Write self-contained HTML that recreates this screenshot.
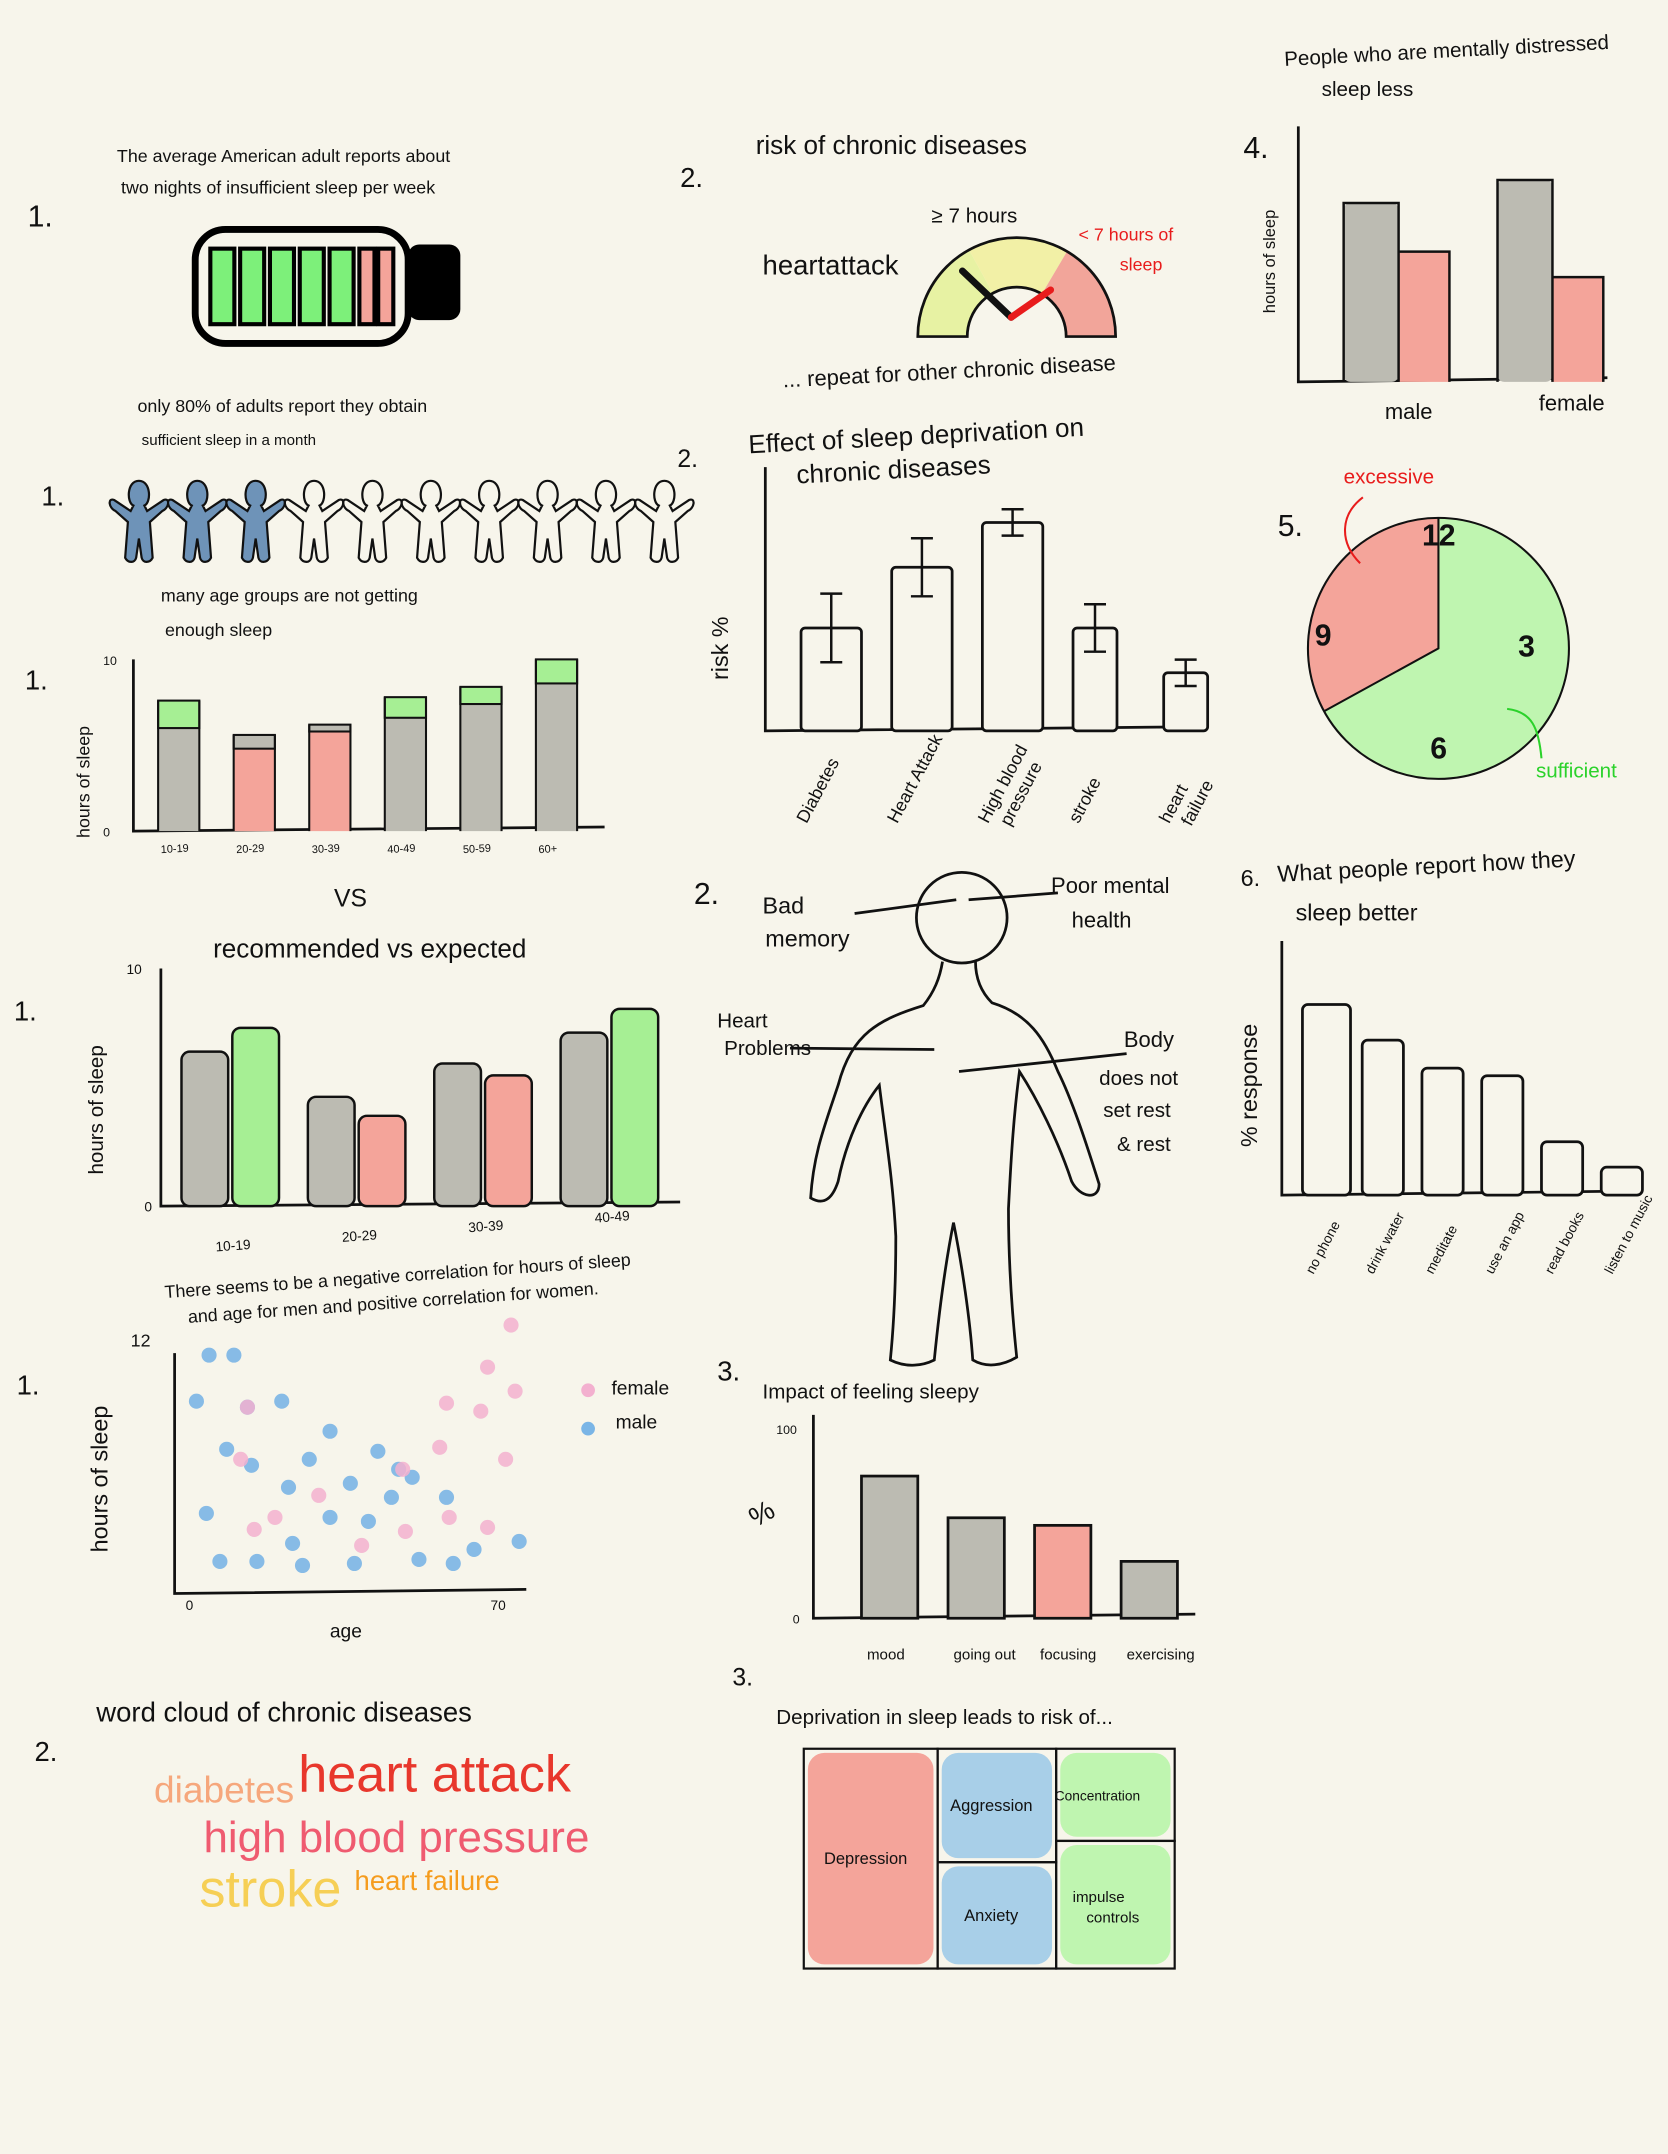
<!DOCTYPE html>
<html><head><meta charset="utf-8"><title>Sleep sketches</title>
<style>
html,body{margin:0;padding:0;background:#f7f5eb;}
svg{display:block;}
text{font-family:"Liberation Sans",sans-serif;fill:#111;}
</style></head>
<body>
<svg id="root" width="1668" height="2154" viewBox="0 0 1214 1568" xmlns="http://www.w3.org/2000/svg">
<rect x="0" y="0" width="1214" height="1568" fill="#f7f5eb"/>

<!-- Section 1 battery -->
<text x="20" y="165" font-size="22">1.</text>
<text x="85" y="118" font-size="13">The average American adult reports about</text>
<text x="88" y="141" font-size="13">two nights of insufficient sleep per week</text>
<g id="battery"></g>

<text x="100" y="300" font-size="13">only 80% of adults report they obtain</text>
<text x="103" y="324" font-size="11">sufficient sleep in a month</text>
<text x="30" y="368" font-size="20">1.</text>
<g id="people"></g>

<text x="117" y="438" font-size="13">many age groups are not getting</text>
<text x="120" y="463" font-size="13">enough sleep</text>
<text x="18" y="502" font-size="20">1.</text>
<g id="chart1"></g>

<text x="243" y="660" font-size="18">VS</text>
<text x="155" y="697" font-size="19">recommended vs expected</text>
<text x="10" y="743" font-size="20">1.</text>
<g id="chart2"></g>

<text x="120" y="945" font-size="13" transform="rotate(-4 120 945)">There seems to be a negative correlation for hours of sleep</text>
<text x="137" y="963" font-size="13" transform="rotate(-4 137 963)">and age for men and positive correlation for women.</text>
<text x="12" y="1015" font-size="20">1.</text>
<g id="scatter"></g>

<text x="70" y="1253" font-size="20">word cloud of chronic diseases</text>
<text x="25" y="1282" font-size="20">2.</text>
<g>
<text x="112" y="1312" font-size="27" style="fill:#f6a77c">diabetes</text>
<text x="217" y="1304" font-size="38" style="fill:#e8372c">heart attack</text>
<text x="148" y="1348" font-size="32" style="fill:#ef5b70">high blood pressure</text>
<text x="145" y="1388" font-size="38" style="fill:#f6cf55">stroke</text>
<text x="258" y="1376" font-size="20" style="fill:#f59c1e">heart failure</text>
</g>

<!-- Middle column -->
<text x="495" y="136" font-size="20">2.</text>
<text x="550" y="112" font-size="19">risk of chronic diseases</text>
<text x="678" y="162" font-size="15">≥ 7 hours</text>
<text x="555" y="200" font-size="20">heartattack</text>
<text x="785" y="175" font-size="13" style="fill:#e81c1c">&lt; 7 hours of</text>
<text x="815" y="197" font-size="13" style="fill:#e81c1c">sleep</text>
<g id="gauge"></g>
<text x="570" y="282" font-size="16" transform="rotate(-3 570 282)">... repeat for other chronic disease</text>

<text x="493" y="340" font-size="18">2.</text>
<text x="545" y="330" font-size="19" transform="rotate(-3 545 330)">Effect of sleep deprivation on</text>
<text x="580" y="352" font-size="19" transform="rotate(-3 580 352)">chronic diseases</text>
<g id="chart3"></g>

<text x="505" y="658" font-size="22">2.</text>
<g id="body">
<circle cx="700" cy="668" r="33" fill="none" stroke="#111" stroke-width="2"/>
<path d="M686,700 C684,712 680,722 672,732 C640,742 620,752 610,790 C600,820 592,840 590,872 C600,878 606,872 610,860 C616,830 628,805 640,790 C645,830 650,860 652,900 C652,940 650,970 648,990 C660,996 672,994 680,990 C683,960 688,920 694,890 C700,920 706,960 708,990 C718,996 730,994 740,988 C736,950 734,910 734,880 C736,840 738,810 742,780 C755,800 770,830 780,860 C786,872 800,874 800,862 C790,830 780,800 770,780 C760,755 748,738 722,730 C714,722 710,712 710,700" fill="none" stroke="#111" stroke-width="2"/>
<line x1="622" y1="665" x2="696" y2="655" stroke="#111" stroke-width="2"/>
<line x1="705" y1="655" x2="770" y2="650" stroke="#111" stroke-width="2"/>
<line x1="575" y1="763" x2="680" y2="764" stroke="#111" stroke-width="2"/>
<line x1="698" y1="780" x2="820" y2="767" stroke="#111" stroke-width="2"/>
</g>
<text x="555" y="665" font-size="17">Bad</text>
<text x="557" y="689" font-size="17">memory</text>
<text x="765" y="650" font-size="16">Poor mental</text>
<text x="780" y="675" font-size="16">health</text>
<text x="522" y="748" font-size="15">Heart</text>
<text x="527" y="768" font-size="15">Problems</text>
<text x="818" y="762" font-size="16">Body</text>
<text x="800" y="790" font-size="15">does not</text>
<text x="803" y="813" font-size="15">set rest</text>
<text x="813" y="838" font-size="15">&amp; rest</text>

<text x="522" y="1005" font-size="20">3.</text>
<text x="555" y="1018" font-size="15">Impact of feeling sleepy</text>
<g id="chart4"></g>

<text x="533" y="1227" font-size="18">3.</text>
<text x="565" y="1255" font-size="15">Deprivation in sleep leads to risk of...</text>
<g id="treemap"></g>

<!-- Right column -->
<text x="935" y="48" font-size="15" transform="rotate(-3 935 48)">People who are mentally distressed</text>
<text x="962" y="70" font-size="15">sleep less</text>
<text x="905" y="115" font-size="22">4.</text>
<g id="chart5"></g>

<text x="978" y="352" font-size="15" style="fill:#e81c1c">excessive</text>
<text x="930" y="390" font-size="22">5.</text>
<g id="pie"></g>
<text x="1118" y="566" font-size="15" style="fill:#2bd22b">sufficient</text>

<text x="903" y="645" font-size="17">6.</text>
<text x="930" y="642" font-size="17" transform="rotate(-3 930 642)">What people report how they</text>
<text x="943" y="670" font-size="17">sleep better</text>
<g id="chart6"></g>

<script>
// ===== Data =====
const batteryCells = ['good','good','good','good','good','bad','bad'];
const peopleStatus = [1,1,1,0,0,0,0,0,0,0];
const ageGroups1 = ['10-19','20-29','30-39','40-49','50-59','60+'];
const actualHours1 = [6.0,5.6,6.2,6.6,7.4,8.6];
const recHours1 = [7.6,4.8,5.8,7.8,8.4,10.0];
const yTicks1 = [0,10];
const ageGroups2 = ['10-19','20-29','30-39','40-49'];
const recommended2 = [6.5,4.6,6.0,7.3];
const expected2 = [7.5,3.8,5.5,8.3];
const yTicks2 = [0,10];
const maleAge = [5.2,10.7,2.4,21.3,13.7,32.0,9.1,14.6,27.4,42.6,47.2,22.8,36.5,50.2,32.0,4.6,40.5,23.7,7.6,15.8,25.9,37.4,51.7,59.3,63.9,73.9,57.8,45.6];
const maleHours = [11.9,11.9,9.6,9.6,9.3,8.1,7.2,6.4,6.7,7.1,6.2,5.3,5.5,5.8,3.8,4.0,3.6,2.5,1.6,1.6,1.4,1.5,1.7,1.5,2.2,2.6,4.8,4.8];
const femaleAge = [72.1,66.9,73.0,65.4,57.8,56.3,70.9,12.2,29.5,19.8,15.2,48.7,58.4,66.9,39.0,48.1,13.7];
const femaleHours = [13.4,11.3,10.1,9.1,9.5,7.3,6.7,6.7,4.9,3.8,3.2,3.1,3.8,3.3,2.4,6.2,9.3];
const scatterXTicks = [0,70];
const scatterYTicks = [12];
const gaugeBands = [0.34,0.33,0.33];
const gaugeNeedles = [0.28,0.70];
const diseases = ['Diabetes','Heart Attack','High blood pressure','stroke','heart failure'];
const riskValues = [39,62,79,39,22];
const riskErrors = [13,11,5,9,5];
const sleepyCats = ['mood','going out','focusing','exercising'];
const sleepyValues = [75,53,49,30];
const sleepyHighlight = [0,0,1,0];
const sleepyTicks = [0,100];
const treeNames = [['Depression'],['Aggression','Anxiety'],['Concentration','Impulse controls']];
const treeValues = [[35],[16,15],[13,18]];
const distressGroups = ['male','female'];
const notDistressed = [7.0,7.9];
const distressed = [5.1,4.1];
const pieLabels = ['excessive','sufficient'];
const pieValues = [33,67];
const betterCats = ['no phone','drink water','meditate','use an app','read books','listen to music'];
const betterValues = [75,61,50,47,21,11];

// ===== Helpers =====
const NS='http://www.w3.org/2000/svg';
function mk(tag, attrs, parent){const e=document.createElementNS(NS,tag);for(const k in attrs)e.setAttribute(k,attrs[k]);parent.appendChild(e);return e;}
const GRAY='#bcbbb2',GREEN='#a6ef94',PINK='#f4a49a',BLUE='#a8cfe8',LGREEN='#bff5b0';

// Battery
(function(){
  const g=document.getElementById('battery');
  const b=mk('rect',{x:142,y:167,width:155,height:83,rx:22,fill:'none',stroke:'#000','stroke-width':5},g);
  
  
  const t=mk('rect',{x:297,y:178,width:38,height:55,rx:8,fill:'#000'},g);
  
  
  const x0=153,cw=17.5,gap=4.2;
  batteryCells.forEach((c,i)=>{
    const w=c==='good'?cw:11;
    let x=x0+i*(cw+gap); if(i===6)x-=8;
    const r=mk('rect',{x:x,y:181,width:w,height:55,fill:c==='good'?'#7df07a':PINK,stroke:'#000','stroke-width':3},g);
    
    
  });
})();

// People
(function(){
  const g=document.getElementById('people');
  peopleStatus.forEach((s,i)=>{
    const cx=101+i*42.5, y=348;
    const p=mk('path',{transform:`translate(${cx},${y})`,d:'M0,2 C-9,2 -9,18 -4,20 L-6,24 L-18,16 C-23,14 -22,22 -17,24 L-8,32 L-10,58 C-8,62 -3,62 -2,58 L0,44 L2,58 C3,62 8,62 10,58 L8,32 L17,24 C22,22 23,14 18,16 L6,24 L4,20 C9,18 9,2 0,2 Z',fill:s?'#6e93b8':'none',stroke:'#111','stroke-width':1.6},g);
    
    
  });
})();

// Generic axes
function axes(g,x0,y0,x1,yTop){
  const a=mk('path',{d:`M${x0},${yTop} L${x0},${y0} L${x1},${y0-3}`,fill:'none',stroke:'#111','stroke-width':2},g);
  
  
}
function label(g,x,y,txt,size,rot,name){
  const t=mk('text',{x:x,y:y,'font-size':size},g);
  if(rot)t.setAttribute('transform',`rotate(${rot} ${x} ${y})`);
  t.textContent=txt;
  
  
  return t;
}

// Chart 1
(function(){
  const g=document.getElementById('chart1');
  const x0=97,y0=605,yTop=480,max=10;
  const ys=v=>y0-(v/max)*(y0-yTop);
  axes(g,x0,y0,440,yTop);
  yTicks1.forEach(v=>label(g,x0-22,ys(v)+4,String(v),9,0,'y-tick-label'));
  label(g,65,610,'hours of sleep',13,-90,'y-axis-title');
  const step=55,bw=30;
  ageGroups1.forEach((c,i)=>{
    const x=115+i*step;
    const a=actualHours1[i],r=recHours1[i];
    const lo=Math.min(a,r),hi=Math.max(a,r);
    const base=mk('rect',{x:x,y:ys(lo),width:bw,height:ys(0)-ys(lo),fill:r>a?GRAY:PINK},g);
    
    
    const top=mk('rect',{x:x,y:ys(hi),width:bw,height:ys(lo)-ys(hi),fill:r>a?GREEN:GRAY,stroke:'#111','stroke-width':1.5},g);
    
    
    const o=mk('path',{d:`M${x},${y0} L${x},${ys(hi)} M${x+bw},${ys(hi)} L${x+bw},${y0}`,stroke:'#111','stroke-width':1.5,fill:'none'},g);
    
    
    label(g,x+2,y0+16,c,8,-3,'x-tick-label');
  });
})();

// Chart 2
(function(){
  const g=document.getElementById('chart2');
  const x0=117,y0=878,yTop=705,max=10;
  const ys=v=>y0-(v/max)*(y0-yTop);
  axes(g,x0,y0,495,yTop);
  yTicks2.forEach(v=>label(g,v?92:105,ys(v)+4,String(v),10,0,'y-tick-label'));
  label(g,75,855,'hours of sleep',15,-90,'y-axis-title');
  const step=92,bw=34;
  ageGroups2.forEach((c,i)=>{
    const x=132+i*step;
    const r1=mk('rect',{x:x,y:ys(recommended2[i]),width:bw,height:ys(0)-ys(recommended2[i]),rx:6,fill:GRAY,stroke:'#111','stroke-width':1.8},g);
    
    
    const col=expected2[i]>recommended2[i]?GREEN:PINK;
    const r2=mk('rect',{x:x+bw+3,y:ys(expected2[i]),width:bw,height:ys(0)-ys(expected2[i]),rx:6,fill:col,stroke:'#111','stroke-width':1.8},g);
    
    
    label(g,x+25,y0+33-i*7,c,10,-4,'x-tick-label');
  });
})();

// Scatter
(function(){
  const g=document.getElementById('scatter');
  const x0=127,y0=1160,yTop=985;
  const xs=v=>135+(v/70)*230, ys=v=>y0-(v/12)*175;
  axes(g,x0,y0,383,yTop);
  label(g,95,980,'12',13,0,'y-tick-label');
  scatterXTicks.forEach(v=>label(g,xs(v)-(v?8:0),1172,String(v),10,0,'x-tick-label'));
  label(g,240,1192,'age',14,0,'x-axis-title');
  label(g,78,1130,'hours of sleep',17,-90,'y-axis-title');
  maleAge.forEach((a,i)=>{
    const c=mk('circle',{cx:xs(a),cy:ys(maleHours[i]),r:5.5,fill:'#7ab5e6','fill-opacity':0.9},g);
    
    
  });
  femaleAge.forEach((a,i)=>{
    const c=mk('circle',{cx:xs(a),cy:ys(femaleHours[i]),r:5.5,fill:'#f3b0cf','fill-opacity':0.85},g);
    
    
  });
  const l1=mk('circle',{cx:428,cy:1012,r:5,fill:'#f3b0cf'},g);
  
  
  label(g,445,1015,'female',14,0,'legend-female-label');
  const l2=mk('circle',{cx:428,cy:1040,r:5,fill:'#7ab5e6'},g);
  
  
  label(g,448,1040,'male',14,0,'legend-male-label');
})();

// Gauge
(function(){
  const g=document.getElementById('gauge');
  const cx=740,cy=245,R=72,r=36;
  const cols=['#e7f2a3','#f2f0a6','#f2a59a'];
  let a0=Math.PI;
  const pt=(rad,a)=>[cx+rad*Math.cos(a),cy-rad*Math.sin(a)];
  gaugeBands.forEach((f,i)=>{
    const a1=a0-f*Math.PI;
    const [x1,y1]=pt(R,a0),[x2,y2]=pt(R,a1),[x3,y3]=pt(r,a1),[x4,y4]=pt(r,a0);
    const p=mk('path',{d:`M${x1},${y1} A${R},${R} 0 0 1 ${x2},${y2} L${x3},${y3} A${r},${r} 0 0 0 ${x4},${y4} Z`,fill:cols[i]},g);
    
    
    a0=a1;
  });
  const [ox1,oy1]=pt(R,Math.PI),[ox2,oy2]=pt(R,0),[ix1,iy1]=pt(r,Math.PI),[ix2,iy2]=pt(r,0);
  const o=mk('path',{d:`M${ox1},${oy1} A${R},${R} 0 0 1 ${ox2},${oy2} L${ix2},${iy2} A${r},${r} 0 0 0 ${ix1},${iy1} Z`,fill:'none',stroke:'#111','stroke-width':2},g);
  
  
  gaugeNeedles.forEach((f,i)=>{
    const a=Math.PI*(1-f);
    const [x,y]=pt(i?42:62,a);
    const n=mk('line',{x1:cx-4,y1:cy-14,x2:x,y2:y,stroke:i?'#e81c1c':'#111','stroke-width':i?5:5,'stroke-linecap':'round'},g);
    
    
  });
})();

// Chart 3
(function(){
  const g=document.getElementById('chart3');
  const x0=557,y0=532,yTop=340;
  const ys=v=>y0-v*1.92;
  axes(g,x0,y0,875,yTop);
  label(g,530,495,'risk %',17,-90,'y-axis-title');
  const xsPos=[583,655,718,800,847], ws=[44,42,52,32,26];
  diseases.forEach((d,i)=>{
    const x=xsPos[0]+0; // placeholder
  });
  const step=66;
  diseases.forEach((d,i)=>{
    const x=583+i*step, w=i<3?44:32;
    const r=mk('rect',{x:x,y:ys(riskValues[i]),width:w,height:ys(0)-ys(riskValues[i]),fill:'#f7f5eb',stroke:'#111','stroke-width':2,rx:3},g);
    
    
    const mx=x+w/2,hi=ys(riskValues[i]+riskErrors[i]),lo=ys(riskValues[i]-riskErrors[i]);
    const e=mk('path',{d:`M${mx},${hi} L${mx},${lo} M${mx-8},${hi} L${mx+8},${hi} M${mx-8},${lo} L${mx+8},${lo}`,stroke:'#111','stroke-width':1.8,fill:'none'},g);
    
    
    const parts=d==='High blood pressure'?['High blood','pressure']:d==='heart failure'?['heart','failure']:[d];
    parts.forEach((p,j)=>label(g,x+4+j*16,600+j*2,p,13,-62,'x-tick-label'));
  });
})();

// Chart 4
(function(){
  const g=document.getElementById('chart4');
  const x0=592,y0=1178,yTop=1030;
  const ys=v=>y0-(v/100)*138;
  axes(g,x0,y0,870,yTop);
  sleepyTicks.forEach(v=>label(g,v?565:577,ys(v)+4,String(v),9,0,'y-tick-label'));
  label(g,550,1112,'%',20,-30,'y-axis-title');
  sleepyCats.forEach((c,i)=>{
    const x=627+i*63;
    const r=mk('rect',{x:x,y:ys(sleepyValues[i]),width:41,height:ys(0)-ys(sleepyValues[i]),fill:sleepyHighlight[i]?PINK:GRAY,stroke:'#111','stroke-width':2},g);
    
    
    label(g,x+4,1208,c,11,0,'x-tick-label');
  });
})();

// Treemap
(function(){
  const g=document.getElementById('treemap');
  const X=585,Y=1273,W=270,H=160;
  const cols=[PINK,BLUE,LGREEN];
  const total=treeValues.flat().reduce((a,b)=>a+b,0);
  let x=X;
  treeValues.forEach((col,i)=>{
    const sum=col.reduce((a,b)=>a+b,0);
    const w=W*sum/total;
    let y=Y;
    col.forEach((v,j)=>{
      const h=H*v/sum;
      const r=mk('rect',{x:x+3,y:y+3,width:w-6,height:h-6,rx:12,fill:cols[i]},g);
      
      
      const o=mk('rect',{x:x,y:y,width:w,height:h,fill:'none',stroke:'#111','stroke-width':1.6},g);
      
      
      const nm=treeNames[i][j];
      if(nm==='Impulse controls'){
        label(g,x+12,y+h/2-2,'impulse',11,0,'treemap-label');
        label(g,x+22,y+h/2+13,'controls',11,0,'treemap-label');
      } else {
        label(g,x+w/2-nm.length*3.4,y+h/2+4,nm,nm.length>11?10:12,0,'treemap-label');
      }
      y+=h;
    });
    x+=w;
  });
})();

// Chart 5
(function(){
  const g=document.getElementById('chart5');
  const x0=945,y0=278,yTop=92;
  const ys=v=>y0-v*18.6;
  axes(g,x0,y0,1170,yTop);
  label(g,928,228,'hours of sleep',12,-90,'y-axis-title');
  distressGroups.forEach((c,i)=>{
    const x=978+i*112;
    const a=mk('rect',{x:x,y:ys(notDistressed[i]),width:40,height:ys(0)-ys(notDistressed[i]),rx:5,fill:GRAY},g);
    
    
    const b=mk('rect',{x:x+40,y:ys(distressed[i]),width:37,height:ys(0)-ys(distressed[i]),fill:PINK},g);
    
    
    const o=mk('path',{d:`M${x},${y0} L${x},${ys(notDistressed[i])} L${x+40},${ys(notDistressed[i])} L${x+40},${y0} M${x+40},${ys(distressed[i])} L${x+77},${ys(distressed[i])} L${x+77},${y0}`,fill:'none',stroke:'#111','stroke-width':1.8},g);
    
    
    label(g,x+30-i*0,305-i*6,c,16,0,'x-tick-label');
  });
})();

// Pie
(function(){
  const g=document.getElementById('pie');
  const cx=1047,cy=472,R=95;
  const total=pieValues.reduce((a,b)=>a+b,0);
  const cols=['#f4a49a','#bff5b0'];
  const pt=a=>[cx+R*Math.sin(a),cy-R*Math.cos(a)];
  // excessive goes counter-clockwise from 12
  const exAng=2*Math.PI*pieValues[0]/total;
  const start=2*Math.PI-exAng;
  const green=mk('path',{d:(()=>{const [x1,y1]=pt(0),[x2,y2]=pt(start);return `M${cx},${cy} L${x1},${y1} A${R},${R} 0 ${start>Math.PI?1:0} 1 ${x2},${y2} Z`;})(),fill:cols[1]},g);
  
  
  const pink=mk('path',{d:(()=>{const [x1,y1]=pt(start),[x2,y2]=pt(2*Math.PI);return `M${cx},${cy} L${x1},${y1} A${R},${R} 0 ${exAng>Math.PI?1:0} 1 ${x2},${y2} Z`;})(),fill:cols[0]},g);
  
  
  const o=mk('circle',{cx:cx,cy:cy,r:R,fill:'none',stroke:'#111','stroke-width':1.5},g);
  
  
  const [sx,sy]=pt(start);
  const d=mk('path',{d:`M${cx},${cy-95} L${cx},${cy} L${sx},${sy}`,fill:'none',stroke:'#111','stroke-width':1.5},g);
  
  
  [['12',cx-12,cy-75],['3',cx+58,cy+6],['6',cx-6,cy+80],['9',cx-90,cy-2]].forEach(a=>{
    const t=label(g,a[1],a[2],a[0],22,0,'clock-number');t.setAttribute('font-weight','bold');
  });
  const ar1=mk('path',{d:'M992,362 C975,375 975,395 990,410',fill:'none',stroke:'#e81c1c','stroke-width':1.5},g);
  
  
  const ar2=mk('path',{d:'M1097,516 C1115,518 1120,530 1122,552',fill:'none',stroke:'#2bd22b','stroke-width':1.5},g);
  
  
})();

// Chart 6
(function(){
  const g=document.getElementById('chart6');
  const x0=933,y0=870,yTop=685;
  const ys=v=>y0-(v/100)*185;
  axes(g,x0,y0,1190,yTop);
  label(g,915,835,'% response',17,-90,'y-axis-title');
  betterCats.forEach((c,i)=>{
    const x=948+i*43.5, w=i===0?35:30;
    const r=mk('rect',{x:x,y:ys(betterValues[i]),width:w,height:ys(0)-ys(betterValues[i]),rx:4,fill:'#f7f5eb',stroke:'#111','stroke-width':2},g);
    
    
    label(g,x+8,928,c,10,-62,'x-tick-label');
  });
})();
</script>
</svg>
</body></html>
